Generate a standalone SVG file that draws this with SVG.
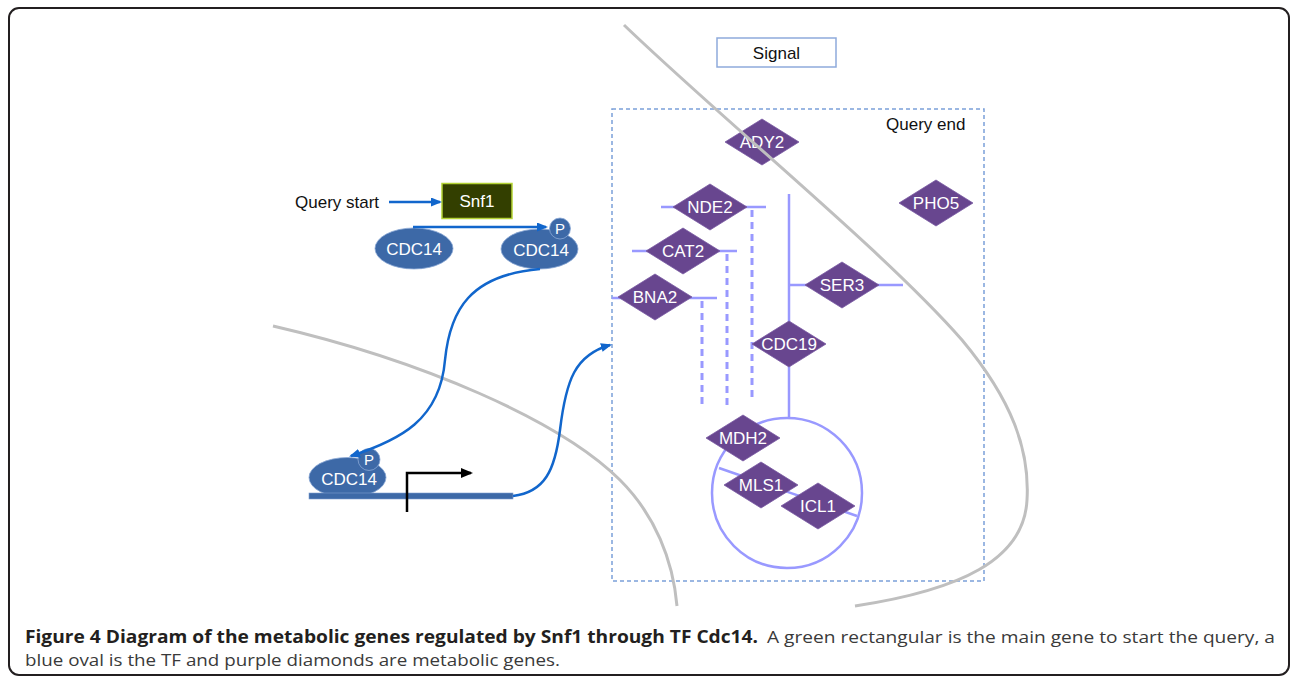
<svg xmlns="http://www.w3.org/2000/svg" width="1290" height="679" viewBox="0 0 1290 679">
<style>
.lbl{font-family:"Liberation Sans",Arial,sans-serif;font-size:17px;fill:#ffffff;text-anchor:middle}
.blk{font-family:"Liberation Sans",Arial,sans-serif;font-size:17px;fill:#111111}
.dia{fill:#68468f;stroke:#7a5aa3;stroke-width:0.8}
.oval{fill:#3d69a7;stroke:#8aa8d6;stroke-width:0.8}
.pl{stroke:#9999ff;stroke-width:2.5;fill:none}
.pd{stroke:#9999ff;stroke-width:3;fill:none;stroke-dasharray:7 5}
.bl{stroke:#1166cc;stroke-width:2.5;fill:none}
.gray{stroke:#bfbfbf;stroke-width:3;fill:none}
.cap{font-family:"Open Sans","Noto Sans",sans-serif;font-size:17px}
</style>
<defs>
<marker id="arrB" markerUnits="userSpaceOnUse" markerWidth="11" markerHeight="9" refX="9" refY="4.5" orient="auto"><path d="M0,0 L11,4.5 L0,9 Z" fill="#1166cc"/></marker>
<marker id="arrK" markerUnits="userSpaceOnUse" markerWidth="12" markerHeight="10" refX="10" refY="5" orient="auto"><path d="M0,0 L12,5 L0,10 Z" fill="#000000"/></marker>
<path id="dm" d="M-37,0 L0,-23 L37,0 L0,23 Z"/>
</defs>
<rect x="9" y="8" width="1280" height="667" rx="10" fill="#ffffff" stroke="#231f20" stroke-width="2"/>
<g id="signal"><rect x="717" y="38" width="119" height="29" fill="#ffffff" stroke="#8eaadb" stroke-width="1.5"/><text class="blk" x="776.5" y="59" text-anchor="middle">Signal</text></g>
<g id="query-end"><rect x="612" y="109" width="372" height="472" fill="none" stroke="#7ba0d9" stroke-width="1.5" stroke-dasharray="4 3"/><text class="blk" x="886" y="130">Query end</text></g>
<g id="connectors">
<line class="pl" x1="661" y1="207" x2="766" y2="207"/>
<line class="pd" x1="752" y1="210" x2="752" y2="398"/>
<line class="pl" x1="632" y1="251" x2="737" y2="251"/>
<line class="pd" x1="727" y1="254" x2="727" y2="407"/>
<line class="pl" x1="612" y1="298" x2="717" y2="298"/>
<line class="pd" x1="702" y1="301" x2="702" y2="408"/>
<line class="pl" x1="789" y1="194" x2="789" y2="418"/>
<line class="pl" x1="789" y1="285" x2="903" y2="285"/>
<circle class="pl" cx="787" cy="493" r="75"/>
<line class="pl" x1="719" y1="468" x2="857" y2="516"/>
</g>
<g id="ADY2"><use href="#dm" x="762" y="142" class="dia"/><text class="lbl" x="762" y="148">ADY2</text></g>
<g id="NDE2"><use href="#dm" x="710" y="207" class="dia"/><text class="lbl" x="710" y="213">NDE2</text></g>
<g id="CAT2"><use href="#dm" x="683" y="251" class="dia"/><text class="lbl" x="683" y="257">CAT2</text></g>
<g id="BNA2"><use href="#dm" x="655" y="297" class="dia"/><text class="lbl" x="655" y="303">BNA2</text></g>
<g id="SER3"><use href="#dm" x="842" y="285" class="dia"/><text class="lbl" x="842" y="291">SER3</text></g>
<g id="PHO5"><use href="#dm" x="936" y="203" class="dia"/><text class="lbl" x="936" y="209">PHO5</text></g>
<g id="CDC19"><use href="#dm" x="789" y="344" class="dia"/><text class="lbl" x="789" y="350">CDC19</text></g>
<g id="MDH2"><use href="#dm" x="743" y="438" class="dia"/><text class="lbl" x="743" y="444">MDH2</text></g>
<g id="MLS1"><use href="#dm" x="761" y="485" class="dia"/><text class="lbl" x="761" y="491">MLS1</text></g>
<g id="ICL1"><use href="#dm" x="818" y="506" class="dia"/><text class="lbl" x="818" y="512">ICL1</text></g>
<g id="membranes">
<path class="gray" d="M624,25 C725,122 885,252 962,340 C1012,400 1030,450 1027,500 C1024,560 960,590 855,606"/>
<path class="gray" d="M273,326 C420,360 560,420 620,480 C655,515 673,560 677,606"/>
</g>
<g id="query-start"><text class="blk" x="295" y="208">Query start</text></g>
<g id="Snf1"><rect x="442" y="183.5" width="70" height="35" fill="#333f00" stroke="#b4d334" stroke-width="1.5"/><text class="lbl" x="477" y="207">Snf1</text></g>
<g id="CDC14-a"><ellipse class="oval" cx="414" cy="248.5" rx="39" ry="20.5"/><text class="lbl" x="414" y="255">CDC14</text></g>
<g id="CDC14-b"><ellipse class="oval" cx="539.5" cy="249" rx="38.5" ry="20"/><text class="lbl" x="541" y="255.5">CDC14</text><circle class="oval" cx="560" cy="228.5" r="10.5"/><text class="lbl" x="560" y="234" style="font-size:15px">P</text></g>
<g id="CDC14-c"><ellipse class="oval" cx="347.5" cy="477.5" rx="38.5" ry="20"/><circle class="oval" cx="369" cy="459.5" r="11"/><text class="lbl" x="369" y="465" style="font-size:15px">P</text><text class="lbl" x="349" y="485">CDC14</text></g>
<g id="gene"><rect x="309" y="493" width="204" height="6" fill="#3d69a7" stroke="#7f9fcf" stroke-width="0.6"/></g>
<g id="arrows">
<line class="bl" x1="389" y1="202" x2="440" y2="202" marker-end="url(#arrB)"/>
<line class="bl" x1="413" y1="227" x2="546" y2="227" marker-end="url(#arrB)"/>
<path class="bl" d="M540,269 C470,275 450,310 445,360 C440,420 400,440 351,456" marker-end="url(#arrB)"/>
<path class="bl" d="M513,496 C545,492 555,470 560,430 C566,380 575,355 610,345" marker-end="url(#arrB)"/>
<path d="M407,512 L407,473 L471,473" fill="none" stroke="#000000" stroke-width="2.5" marker-end="url(#arrK)"/>
</g>
<g id="caption">
<text class="cap" x="25" y="643" font-weight="700" fill="#231f20" textLength="733" lengthAdjust="spacingAndGlyphs">Figure 4 Diagram of the metabolic genes regulated by Snf1 through TF Cdc14.</text>
<text class="cap" x="767" y="643" fill="#3a3a3a" textLength="508" lengthAdjust="spacingAndGlyphs">A green rectangular is the main gene to start the query, a</text>
<text class="cap" x="25" y="666" fill="#3a3a3a" textLength="535" lengthAdjust="spacingAndGlyphs">blue oval is the TF and purple diamonds are metabolic genes.</text>
</g>
</svg>
